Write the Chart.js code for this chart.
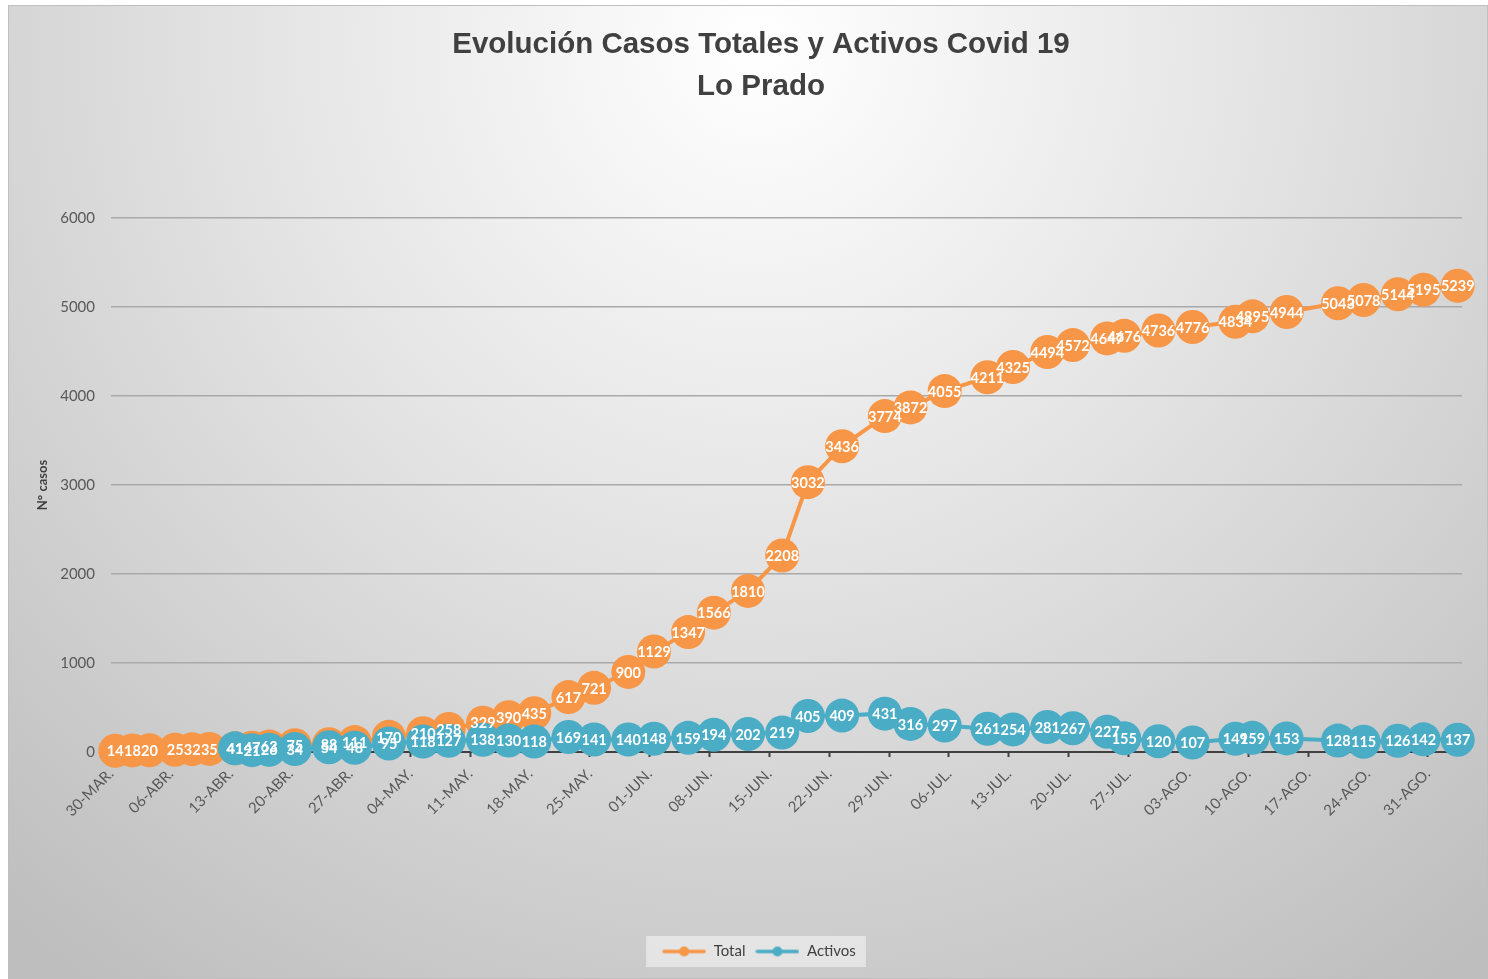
<!DOCTYPE html>
<html>
<head>
<meta charset="utf-8">
<script src="https://cdn.jsdelivr.net/npm/chart.js@4.4.1/dist/chart.umd.min.js"></script>
<style>
html,body{margin:0;padding:0;background:#ffffff;}
#wrap{position:absolute;left:8px;top:5px;width:1480px;height:974px;}
canvas{display:block;}
</style>
</head>
<body>
<div id="wrap"><canvas id="c" width="1480" height="974"></canvas></div>
<script>
// ---- data ----
const titulo = ['Evolución Casos Totales y Activos Covid 19', 'Lo Prado'];
const ejeY = 'N° casos';
const inicio = '2020-03-30';
const fechas = ['2020-03-30','2020-04-01','2020-04-03','2020-04-06','2020-04-08','2020-04-10','2020-04-13','2020-04-15','2020-04-17','2020-04-20','2020-04-24','2020-04-27','2020-05-01','2020-05-05','2020-05-08','2020-05-12','2020-05-15','2020-05-18','2020-05-22','2020-05-25','2020-05-29','2020-06-01','2020-06-05','2020-06-08','2020-06-12','2020-06-16','2020-06-19','2020-06-23','2020-06-28','2020-07-01','2020-07-05','2020-07-10','2020-07-13','2020-07-17','2020-07-20','2020-07-24','2020-07-26','2020-07-30','2020-08-03','2020-08-08','2020-08-10','2020-08-14','2020-08-20','2020-08-23','2020-08-27','2020-08-30','2020-09-03'];
const total = [14,18,20,25,32,35,41,47,63,75,88,111,170,210,258,329,390,435,617,721,900,1129,1347,1566,1810,2208,3032,3436,3774,3872,4055,4211,4325,4494,4572,4647,4676,4736,4776,4834,4895,4944,5043,5078,5144,5195,5239];
const activos = [null,null,null,null,null,null,41,21,26,34,54,48,95,118,127,138,130,118,169,141,140,148,159,194,202,219,405,409,431,316,297,261,254,281,267,227,155,120,107,149,159,153,128,115,126,142,137];
const tickLabels = ['30-MAR.','06-ABR.','13-ABR.','20-ABR.','27-ABR.','04-MAY.','11-MAY.','18-MAY.','25-MAY.','01-JUN.','08-JUN.','15-JUN.','22-JUN.','29-JUN.','06-JUL.','13-JUL.','20-JUL.','27-JUL.','03-AGO.','10-AGO.','17-AGO.','24-AGO.','31-AGO.'];
const yTicks = [0,1000,2000,3000,4000,5000,6000];
const nombres = ['Total','Activos'];
const colores = ['#F79646','#4BACC6'];

// ---- helpers ----
function dia(s){
  const a = s.split('-').map(Number), b = inicio.split('-').map(Number);
  return (Date.UTC(a[0],a[1]-1,a[2]) - Date.UTC(b[0],b[1]-1,b[2])) / 86400000;
}
function puntos(vals){
  const out = [];
  fechas.forEach((f,i)=>{ if (vals[i] != null) out.push({x: dia(f) + 0.5, y: vals[i]}); });
  return out;
}
function icono(color){
  const c = document.createElement('canvas');
  c.width = 44; c.height = 12;
  const g = c.getContext('2d');
  g.strokeStyle = color; g.lineWidth = 3.5; g.lineCap = 'round';
  g.beginPath(); g.moveTo(2,6); g.lineTo(42,6); g.stroke();
  g.fillStyle = color; g.beginPath(); g.arc(22,6,5,0,Math.PI*2); g.fill();
  return c;
}
const iconos = colores.map(icono);

Chart.defaults.font.family = 'Lato, "Open Sans", sans-serif';

const fondo = {
  id: 'fondo',
  beforeDraw(chart){
    const {ctx, width, height} = chart;
    ctx.save();
    const g = ctx.createRadialGradient(750, 40, 0, 750, 40, 1150);
    g.addColorStop(0, '#ffffff');
    g.addColorStop(0.42, '#e5e5e5');
    g.addColorStop(1, '#bebebe');
    ctx.fillStyle = g;
    ctx.fillRect(0, 0, width, height);
    ctx.strokeStyle = '#bfbfbf'; ctx.lineWidth = 1;
    ctx.strokeRect(0.5, 0.5, width - 1, height - 1);
    const lg = chart.legend;
    if (lg && lg.legendHitBoxes && lg.legendHitBoxes.length){
      const hb = lg.legendHitBoxes;
      const x0 = Math.min(...hb.map(h=>h.left)) - 16;
      const x1 = Math.max(...hb.map(h=>h.left + h.width)) + 10;
      const yc = hb[0].top + hb[0].height / 2;
      ctx.fillStyle = 'rgba(236,236,236,0.75)';
      ctx.fillRect(x0, yc - 15.5, x1 - x0, 31);
    }
    ctx.restore();
  }
};

const desplazar = {
  id: 'desplazar',
  afterLayout(chart){
    const t = chart.titleBlock;
    if (t){ t.left += 26; t.right += 26; }
    const l = chart.legend;
    if (l){ l.left += 24; l.right += 24; }
  }
};

const etiquetas = {
  id: 'etiquetas',
  afterDatasetsDraw(chart){
    const ctx = chart.ctx;
    ctx.save();
    ctx.font = 'bold 14.5px Lato, "Open Sans", sans-serif';
    ctx.fillStyle = '#ffffff';
    ctx.textAlign = 'center';
    ctx.textBaseline = 'middle';
    chart.data.datasets.forEach((ds, i)=>{
      const meta = chart.getDatasetMeta(i);
      meta.data.forEach((pt, j)=>{
        ctx.fillText(String(ds.data[j].y), pt.x, pt.y + 1);
      });
    });
    ctx.restore();
  }
};

const series = [total, activos];
new Chart(document.getElementById('c'), {
  type: 'line',
  data: {
    datasets: series.map((vals, i)=>({
      label: nombres[i],
      data: puntos(vals),
      borderColor: colores[i],
      backgroundColor: colores[i],
      pointBackgroundColor: colores[i],
      pointBorderWidth: 0,
      pointRadius: 17,
      pointHoverRadius: 17,
      borderWidth: 4,
      tension: 0,
      clip: false,
      order: series.length - i
    }))
  },
  options: {
    responsive: false,
    animation: false,
    devicePixelRatio: 1,
    events: [],
    layout: { padding: { left: 0, right: 26, top: 0, bottom: 10 } },
    plugins: {
      tooltip: { enabled: false },
      title: {
        display: true,
        text: titulo,
        color: '#404040',
        font: { family: '"Liberation Sans", Arimo, sans-serif', size: 29.5, weight: 'bold', lineHeight: '42px' },
        padding: { top: 19, bottom: 110 }
      },
      legend: {
        display: true,
        position: 'bottom',
        labels: {
          usePointStyle: true,
          pointStyleWidth: 44,
          color: '#404040',
          font: { size: 15 },
          padding: 10,
          sort: (a, b) => a.datasetIndex - b.datasetIndex,
          generateLabels(chart){
            const items = Chart.defaults.plugins.legend.labels.generateLabels(chart);
            items.forEach(it => { it.pointStyle = iconos[it.datasetIndex]; it.lineWidth = 0; });
            return items;
          }
        }
      }
    },
    scales: {
      x: {
        type: 'linear',
        min: 0,
        max: 158,
        afterFit(s){ s.height = 182; },
        border: { display: true, color: '#404040', width: 2 },
        grid: { display: true, drawOnChartArea: false, drawTicks: true, tickLength: 5, tickColor: '#404040', tickWidth: 2 },
        ticks: {
          stepSize: 7,
          includeBounds: false,
          autoSkip: false,
          maxRotation: 45,
          minRotation: 45,
          color: '#595959',
          font: { size: 15 },
          padding: 8,
          callback: (v) => { const k = v / 7; return Number.isInteger(k) && tickLabels[k] ? tickLabels[k] : ''; }
        }
      },
      y: {
        type: 'linear',
        min: yTicks[0],
        max: yTicks[yTicks.length - 1],
        afterFit(s){ s.width = 103; },
        border: { display: false },
        grid: { color: '#a9a9a9', lineWidth: 1.5, drawTicks: false },
        ticks: {
          stepSize: yTicks[1] - yTicks[0],
          color: '#595959',
          font: { size: 15 },
          padding: 16,
          callback: (v) => String(v)
        },
        title: {
          display: true,
          text: ejeY,
          color: '#404040',
          font: { size: 13, weight: 'bold' },
          padding: { top: 27, bottom: 0 }
        }
      }
    }
  },
  plugins: [fondo, desplazar, etiquetas]
});
</script>
</body>
</html>
